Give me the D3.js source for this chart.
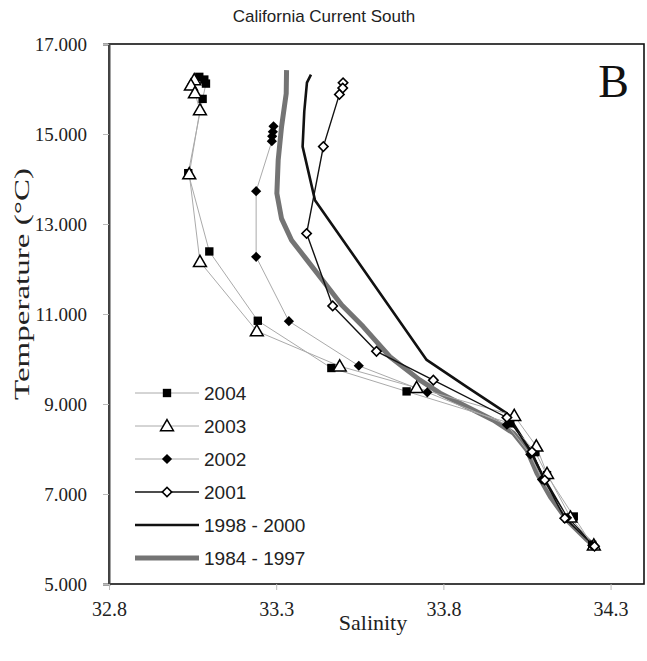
<!DOCTYPE html>
<html>
<head>
<meta charset="utf-8">
<script src="https://cdn.jsdelivr.net/npm/d3@7"></script>
<style>
  body { margin: 0; background: #fff; }
  svg { display: block; }
</style>
</head>
<body>
<svg id="chart" width="647" height="661"></svg>
<script>
// salinity / temperature profiles
var sal2004 = [33.07, 33.085, 33.09, 33.08, 33.037, 33.10, 33.245, 33.465, 33.69, 34.0, 34.075, 34.11, 34.19, 34.245]
var temp2004 = [16.27, 16.21, 16.12, 15.78, 14.13, 12.39, 10.85, 9.80, 9.28, 8.57, 7.93, 7.42, 6.50, 5.87]

var sal2003 = [33.055, 33.045, 33.057, 33.072, 33.04, 33.072, 33.242, 33.49, 33.72, 34.012, 34.078, 34.11, 34.18, 34.25]
var temp2003 = [16.2, 16.08, 15.91, 15.53, 14.11, 12.16, 10.62, 9.84, 9.36, 8.74, 8.06, 7.45, 6.48, 5.86]

var sal2002 = [33.292, 33.29, 33.288, 33.287, 33.24, 33.24, 33.338, 33.547, 33.752, 33.99, 34.06, 34.095, 34.17, 34.245]
var temp2002 = [15.17, 15.05, 14.95, 14.84, 13.73, 12.27, 10.84, 9.85, 9.26, 8.54, 7.88, 7.32, 6.47, 5.86]

var sal2001 = [33.5, 33.499, 33.489, 33.441, 33.391, 33.469, 33.6, 33.77, 33.99, 34.065, 34.103, 34.163, 34.252]
var temp2001 = [16.14, 16.02, 15.88, 14.72, 12.79, 11.18, 10.17, 9.53, 8.70, 7.94, 7.31, 6.46, 5.84]

var sal9800 = [33.404, 33.392, 33.384, 33.379, 33.416, 33.75, 33.87, 33.99, 34.06, 34.10, 34.17, 34.25]
var temp9800 = [16.32, 16.14, 15.5, 14.72, 13.53, 9.98, 9.38, 8.79, 7.96, 7.36, 6.46, 5.86]

var sal8497 = [33.331, 33.33, 33.316, 33.306, 33.302, 33.316, 33.346, 33.39, 33.44, 33.496, 33.56, 33.64, 33.73, 33.79, 33.87, 33.95, 34.01, 34.05, 34.08, 34.12, 34.17, 34.23, 34.25]
var temp8497 = [16.42, 15.9, 15.16, 14.42, 13.68, 13.12, 12.64, 12.22, 11.74, 11.2, 10.72, 10.05, 9.53, 9.24, 8.94, 8.64, 8.35, 7.98, 7.46, 6.94, 6.42, 5.98, 5.85]

var xTicks = [32.8, 33.3, 33.8, 34.3]
var yTicks = [5, 7, 9, 11, 13, 15, 17]

var seriesNames = ["2004", "2003", "2002", "2001", "1998 - 2000", "1984 - 1997"]

draw()

function zipUp(s, t) { return s.map(function(v, i) { return { s: v, t: t[i] } }) }

function draw() {
  var series = [
    { name: "1984 - 1997", pts: zipUp(sal8497, temp8497), stroke: "#747474", width: 5, marker: null },
    { name: "1998 - 2000", pts: zipUp(sal9800, temp9800), stroke: "#111", width: 2.6, marker: null },
    { name: "2004", pts: zipUp(sal2004, temp2004), stroke: "#aaa", width: 1, marker: "square" },
    { name: "2003", pts: zipUp(sal2003, temp2003), stroke: "#aaa", width: 1, marker: "triangle" },
    { name: "2002", pts: zipUp(sal2002, temp2002), stroke: "#aaa", width: 1, marker: "diamondFill" },
    { name: "2001", pts: zipUp(sal2001, temp2001), stroke: "#111", width: 1.4, marker: "diamondOpen" }
  ]

  var svg = d3.select("#chart")
  var pLeft = 109, pRight = 644, pTop = 44, pBottom = 584

  var x = d3.scaleLinear().domain([32.8, 34.4]).range([pLeft, pRight])
  var y = d3.scaleLinear().domain([5, 17]).range([pBottom, pTop])

  //title
  svg.append("text")
    .attr("x", 324).attr("y", 22)
    .attr("text-anchor", "middle")
    .style("font-family", "Liberation Sans, Arial, sans-serif")
    .style("font-size", "17px")
    .style("fill", "#222")
    .text("California Current South")

  //frame
  svg.append("rect")
    .attr("x", pLeft).attr("y", pTop)
    .attr("width", pRight - pLeft).attr("height", pBottom - pTop)
    .style("fill", "none").style("stroke", "#111").style("stroke-width", 1.6)

  //y axis
  var yAxis = svg.append("g")
    .attr("transform", "translate(" + pLeft + ",0)")
    .call(d3.axisLeft(y).tickValues(yTicks).tickFormat(d3.format(".3f")).tickSize(6).tickPadding(16))
  yAxis.select(".domain").style("stroke", "#444").style("stroke-width", 2)
  yAxis.selectAll(".tick line").style("stroke", "#bbb")
  yAxis.selectAll(".tick text")
    .style("font-family", "Liberation Serif, Times New Roman, serif")
    .style("font-size", "19px").style("fill", "#222")

  //x axis
  var xAxis = svg.append("g")
    .attr("transform", "translate(0," + pBottom + ")")
    .call(d3.axisBottom(x).tickValues(xTicks).tickFormat(d3.format(".1f")).tickSize(6).tickPadding(12))
  xAxis.select(".domain").remove()
  xAxis.selectAll(".tick line").style("stroke", "#bbb")
  xAxis.selectAll(".tick text")
    .style("font-family", "Liberation Serif, Times New Roman, serif")
    .style("font-size", "20px").style("fill", "#222")

  //axis titles
  svg.append("text")
    .attr("x", 373).attr("y", 630)
    .attr("text-anchor", "middle")
    .style("font-family", "Liberation Serif, Times New Roman, serif")
    .style("font-size", "22px").style("fill", "#222")
    .text("Salinity")

  svg.append("text")
    .attr("transform", "translate(29,284) rotate(-90)")
    .attr("text-anchor", "middle")
    .attr("textLength", 232).attr("lengthAdjust", "spacingAndGlyphs")
    .style("font-family", "Liberation Serif, Times New Roman, serif")
    .style("font-size", "21px").style("fill", "#222")
    .text("Temperature (°C)")

  //panel letter
  svg.append("text")
    .attr("x", 629).attr("y", 97)
    .attr("text-anchor", "end")
    .style("font-family", "Liberation Serif, Times New Roman, serif")
    .style("font-size", "46px").style("fill", "#111")
    .text("B")

  var line = d3.line().x(function(d) { return x(d.s) }).y(function(d) { return y(d.t) })

  function drawMarker(g, type) {
    if (type == "square") {
      g.append("path").attr("d", d3.symbol(d3.symbolSquare, 70)())
        .style("fill", "#000")
    } else if (type == "triangle") {
      g.append("path").attr("d", d3.symbol(d3.symbolTriangle, 72)())
        .attr("transform", "translate(0,1)")
        .style("fill", "#fff").style("stroke", "#000").style("stroke-width", 1.5)
    } else if (type == "diamondFill") {
      g.append("path").attr("d", d3.symbol(d3.symbolSquare, 52)())
        .attr("transform", "rotate(45)")
        .style("fill", "#000")
    } else if (type == "diamondOpen") {
      g.append("path").attr("d", d3.symbol(d3.symbolSquare, 44)())
        .attr("transform", "rotate(45)")
        .style("fill", "#fff").style("stroke", "#000").style("stroke-width", 1.6)
    }
  }

  var plot = svg.append("g")

  series.forEach(function(sr) {
    plot.append("path")
      .datum(sr.pts)
      .attr("d", line)
      .style("fill", "none")
      .style("stroke", sr.stroke)
      .style("stroke-width", sr.width)
      .style("stroke-linejoin", "round")
  })

  series.forEach(function(sr) {
    if (!sr.marker) return
    plot.append("g").selectAll("g")
      .data(sr.pts)
      .enter().append("g")
      .attr("transform", function(d) { return "translate(" + x(d.s) + "," + y(d.t) + ")" })
      .each(function() { drawMarker(d3.select(this), sr.marker) })
  })

  //legend
  var legend = svg.append("g").attr("class", "legend")
  var legendItems = legend.selectAll(".legendItem")
    .data(seriesNames)
    .enter().append("g")
    .attr("class", "legendItem")
    .attr("transform", function(d, i) { return "translate(135," + (393 + i * 33) + ")" })

  legendItems.each(function(name) {
    var sr = series.filter(function(s) { return s.name == name })[0]
    var g = d3.select(this)
    g.append("line")
      .attr("x1", 0).attr("x2", 64).attr("y1", 0).attr("y2", 0)
      .style("stroke", sr.stroke).style("stroke-width", sr.width)
    if (sr.marker) {
      var m = g.append("g").attr("transform", "translate(32,0)")
      drawMarker(m, sr.marker)
    }
    g.append("text")
      .attr("x", 69).attr("y", 0)
      .attr("dy", "0.35em")
      .style("font-family", "Liberation Sans, Arial, sans-serif")
      .style("font-size", "19px").style("fill", "#222")
      .text(name)
  })
}
</script>
</body>
</html>
